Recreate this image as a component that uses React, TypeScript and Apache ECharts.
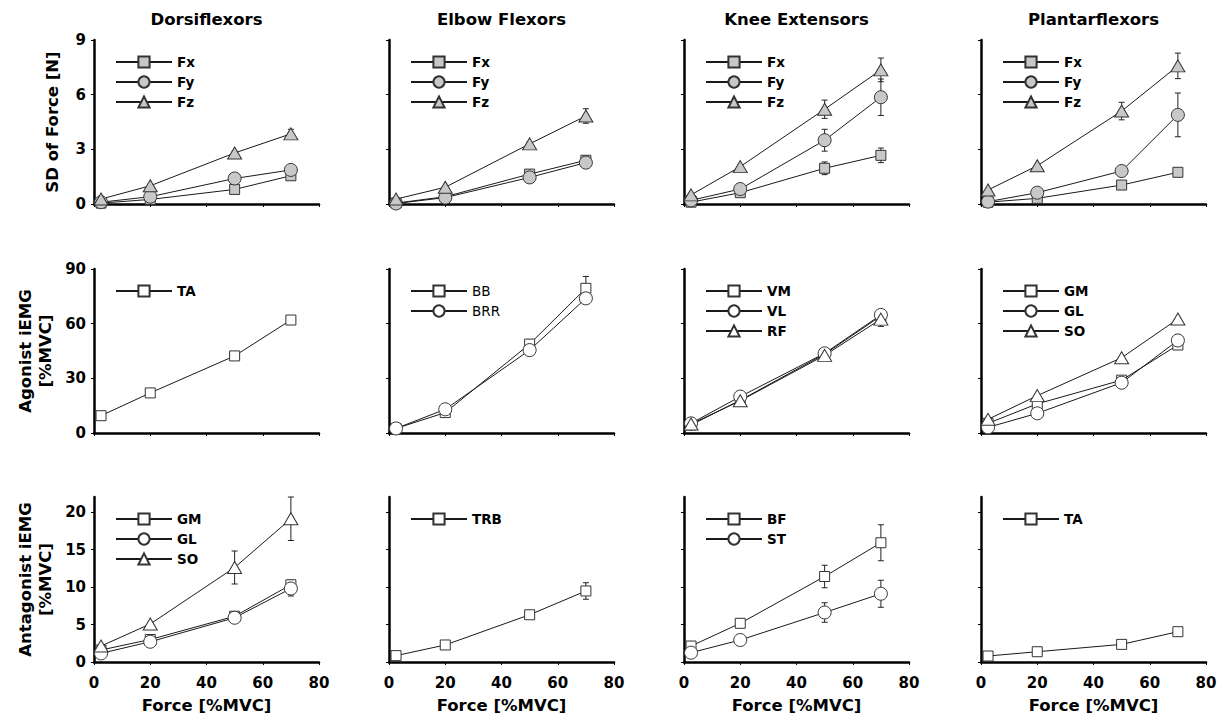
import React, { useEffect, useRef } from "react";
import * as echarts from "echarts";

// ---------- data ----------
const forceLevels = [2.5, 20, 50, 70];
const panelTitles = ["Dorsiflexors", "Elbow Flexors", "Knee Extensors", "Plantarflexors"];
const xTicks = [0, 20, 40, 60, 80];
const sdTicks = [0, 3, 6, 9];
const agonistTicks = [0, 30, 60, 90];
const antagonistTicks = [0, 5, 10, 15, 20];
const rowNames = ["SD of Force [N]", "Agonist iEMG\n[%MVC]", "Antagonist iEMG\n[%MVC]"];
const xName = "Force [%MVC]";

// Row 1: SD of force [N]
const dorsiFx = [0.05, 0.25, 0.8, 1.55];
const dorsiFxErr = [0, 0, 0.05, 0.1];
const dorsiFy = [0.1, 0.4, 1.4, 1.87];
const dorsiFyErr = [0, 0, 0.05, 0.1];
const dorsiFz = [0.27, 1.0, 2.8, 3.85];
const dorsiFzErr = [0, 0, 0.1, 0.25];

const elbowFx = [0.05, 0.4, 1.64, 2.4];
const elbowFxErr = [0, 0, 0.1, 0.12];
const elbowFy = [0.03, 0.35, 1.46, 2.27];
const elbowFyErr = [0, 0, 0.05, 0.1];
const elbowFz = [0.27, 0.92, 3.3, 4.83];
const elbowFzErr = [0, 0, 0.1, 0.4];

const kneeFx = [0.1, 0.62, 1.96, 2.67];
const kneeFxErr = [0, 0.05, 0.35, 0.4];
const kneeFy = [0.2, 0.82, 3.5, 5.86];
const kneeFyErr = [0, 0.1, 0.6, 1.0];
const kneeFz = [0.5, 2.05, 5.2, 7.36];
const kneeFzErr = [0, 0, 0.5, 0.65];

const plantarFx = [0.1, 0.31, 1.04, 1.74];
const plantarFxErr = [0, 0, 0.05, 0.1];
const plantarFy = [0.13, 0.62, 1.81, 4.89];
const plantarFyErr = [0, 0, 0.1, 1.2];
const plantarFz = [0.77, 2.1, 5.1, 7.58];
const plantarFzErr = [0, 0, 0.48, 0.7];

// Row 2: agonist iEMG [%MVC]
const agoDorsiTA = [9.5, 22, 42.3, 62];
const agoDorsiTAErr = [0, 0.5, 1, 1];
const agoElbowBB = [2.5, 11.2, 48.8, 79.4];
const agoElbowBBErr = [0, 0, 2.5, 6.5];
const agoElbowBRR = [2.5, 13, 45.5, 73.9];
const agoElbowBRRErr = [0, 0, 1.5, 2];
const agoKneeVM = [4.4, 18, 43.3, 64.2];
const agoKneeVMErr = [0, 0, 1.5, 2.5];
const agoKneeVL = [5.3, 20, 43.7, 64.8];
const agoKneeVLErr = [0, 1, 1.5, 2.5];
const agoKneeRF = [4.9, 17.7, 42.6, 62.5];
const agoKneeRFErr = [0, 0, 1.5, 4];
const agoPlantarGM = [5.3, 16, 29, 48.3];
const agoPlantarGMErr = [0, 0, 1.5, 2.5];
const agoPlantarGL = [3.1, 10.8, 27.6, 50.8];
const agoPlantarGLErr = [0, 0, 2, 3];
const agoPlantarSO = [7.5, 20.5, 41.3, 62.6];
const agoPlantarSOErr = [0, 0, 0, 0];

// Row 3: antagonist iEMG [%MVC]
const antDorsiGM = [1.6, 3.0, 6.1, 10.3];
const antDorsiGMErr = [0, 0.3, 0.3, 0.6];
const antDorsiGL = [1.15, 2.7, 5.9, 9.8];
const antDorsiGLErr = [0, 0.3, 0.3, 1.0];
const antDorsiSO = [2.13, 5.07, 12.6, 19.1];
const antDorsiSOErr = [0, 0, 2.2, 2.9];
const antElbowTRB = [0.85, 2.27, 6.3, 9.47];
const antElbowTRBErr = [0, 0.2, 0.4, 1.1];
const antKneeBF = [2.13, 5.16, 11.4, 15.9];
const antKneeBFErr = [0, 0.3, 1.5, 2.4];
const antKneeST = [1.24, 2.93, 6.6, 9.1];
const antKneeSTErr = [0, 0.2, 1.3, 1.8];
const antPlantarTA = [0.8, 1.37, 2.35, 4.04];
const antPlantarTAErr = [0, 0, 0.15, 0.2];

// ---------- layout / style ----------
const FONT = '"DejaVu Sans", "Liberation Sans", Arial, sans-serif';
const gridLefts = [94, 389, 684, 981];
const gridWidth = 225;
const gridTops = [40, 269, 497];
const gridHeights = [164, 164, 165];
const rowTicks = [sdTicks, agonistTicks, antagonistTicks];
const rowMax = [9, 90, 22];
const rowInterval = [3, 30, 5];
const rowFill = ["#c8c8c8", "#ffffff", "#ffffff"];
const rowNameGap = [32, 39, 39];

const symbolOf: Record<string, string> = {
  Fx: "rect", Fy: "circle", Fz: "triangle",
  TA: "rect", BB: "rect", BRR: "circle",
  VM: "rect", VL: "circle", RF: "triangle",
  GM: "rect", GL: "circle", SO: "triangle",
  TRB: "rect", BF: "rect", ST: "circle",
};
const sizeOf: Record<string, any> = { rect: 10, circle: 13, triangle: [14, 12] };

type S = { name: string; values: number[]; errors: number[] };
type Panel = { row: number; col: number; series: S[]; legendWeight?: string };

const panels: Panel[] = [
  { row: 0, col: 0, series: [
    { name: "Fx", values: dorsiFx, errors: dorsiFxErr },
    { name: "Fy", values: dorsiFy, errors: dorsiFyErr },
    { name: "Fz", values: dorsiFz, errors: dorsiFzErr }] },
  { row: 0, col: 1, series: [
    { name: "Fx", values: elbowFx, errors: elbowFxErr },
    { name: "Fy", values: elbowFy, errors: elbowFyErr },
    { name: "Fz", values: elbowFz, errors: elbowFzErr }] },
  { row: 0, col: 2, series: [
    { name: "Fx", values: kneeFx, errors: kneeFxErr },
    { name: "Fy", values: kneeFy, errors: kneeFyErr },
    { name: "Fz", values: kneeFz, errors: kneeFzErr }] },
  { row: 0, col: 3, series: [
    { name: "Fx", values: plantarFx, errors: plantarFxErr },
    { name: "Fy", values: plantarFy, errors: plantarFyErr },
    { name: "Fz", values: plantarFz, errors: plantarFzErr }] },
  { row: 1, col: 0, series: [
    { name: "TA", values: agoDorsiTA, errors: agoDorsiTAErr }] },
  { row: 1, col: 1, legendWeight: "normal", series: [
    { name: "BB", values: agoElbowBB, errors: agoElbowBBErr },
    { name: "BRR", values: agoElbowBRR, errors: agoElbowBRRErr }] },
  { row: 1, col: 2, series: [
    { name: "VM", values: agoKneeVM, errors: agoKneeVMErr },
    { name: "VL", values: agoKneeVL, errors: agoKneeVLErr },
    { name: "RF", values: agoKneeRF, errors: agoKneeRFErr }] },
  { row: 1, col: 3, series: [
    { name: "GM", values: agoPlantarGM, errors: agoPlantarGMErr },
    { name: "GL", values: agoPlantarGL, errors: agoPlantarGLErr },
    { name: "SO", values: agoPlantarSO, errors: agoPlantarSOErr }] },
  { row: 2, col: 0, series: [
    { name: "GM", values: antDorsiGM, errors: antDorsiGMErr },
    { name: "GL", values: antDorsiGL, errors: antDorsiGLErr },
    { name: "SO", values: antDorsiSO, errors: antDorsiSOErr }] },
  { row: 2, col: 1, series: [
    { name: "TRB", values: antElbowTRB, errors: antElbowTRBErr }] },
  { row: 2, col: 2, series: [
    { name: "BF", values: antKneeBF, errors: antKneeBFErr },
    { name: "ST", values: antKneeST, errors: antKneeSTErr }] },
  { row: 2, col: 3, series: [
    { name: "TA", values: antPlantarTA, errors: antPlantarTAErr }] },
];

function buildOption() {
  const grid: any[] = [];
  const xAxis: any[] = [];
  const yAxis: any[] = [];
  const series: any[] = [];
  const legend: any[] = [];

  panels.forEach((p, i) => {
    const left = gridLefts[p.col];
    const top = gridTops[p.row];
    grid.push({ left, top, width: gridWidth, height: gridHeights[p.row], containLabel: false });
    const isBottom = p.row === 2;
    const isLeft = p.col === 0;
    xAxis.push({
      type: "value", gridIndex: i, min: 0, max: 80, interval: 20,
      axisLine: { show: true, onZero: false, lineStyle: { color: "#000", width: 2.5 } },
      axisTick: { show: true, length: 3, customValues: xTicks, lineStyle: { color: "#000", width: 1 } },
      axisLabel: {
        show: isBottom, customValues: xTicks, margin: 13,
        fontFamily: FONT, fontSize: 15, fontWeight: "bold", color: "#000",
      },
      splitLine: { show: false },
      name: isBottom ? xName : "",
      nameLocation: "middle", nameGap: 35,
      nameTextStyle: { fontFamily: FONT, fontSize: 16.5, fontWeight: "bold", color: "#000" },
    });
    yAxis.push({
      type: "value", gridIndex: i, min: 0, max: rowMax[p.row], interval: rowInterval[p.row],
      axisLine: { show: true, onZero: false, lineStyle: { color: "#000", width: 2.5 } },
      axisTick: { show: true, length: 3, customValues: rowTicks[p.row], lineStyle: { color: "#000", width: 1 } },
      axisLabel: {
        show: isLeft, customValues: rowTicks[p.row], margin: 8,
        fontFamily: FONT, fontSize: 15, fontWeight: "bold", color: "#000",
      },
      splitLine: { show: false },
      name: isLeft ? rowNames[p.row] : "",
      nameLocation: "middle", nameGap: rowNameGap[p.row],
      nameTextStyle: { fontFamily: FONT, fontSize: 16.5, fontWeight: "bold", color: "#000", lineHeight: 20 },
    });

    p.series.forEach((s) => {
      const sym = symbolOf[s.name];
      series.push({
        type: "custom",
        name: "err-" + i + "-" + s.name,
        xAxisIndex: i, yAxisIndex: i, z: 2, silent: true,
        encode: { x: 0, y: 1 },
        data: forceLevels.map((x, k) => [x, s.values[k], s.errors[k]]),
        renderItem: (_params: any, api: any) => {
          const x = api.value(0);
          const y = api.value(1);
          const e = api.value(2);
          if (!e) return null;
          const t = api.coord([x, y + e]);
          const b = api.coord([x, y - e]);
          const st = { stroke: "#222", lineWidth: 1 };
          return {
            type: "group",
            children: [
              { type: "line", shape: { x1: t[0], y1: t[1], x2: b[0], y2: b[1] }, style: st },
              { type: "line", shape: { x1: t[0] - 3, y1: t[1], x2: t[0] + 3, y2: t[1] }, style: st },
              { type: "line", shape: { x1: b[0] - 3, y1: b[1], x2: b[0] + 3, y2: b[1] }, style: st },
            ],
          };
        },
      });
      series.push({
        type: "line",
        name: s.name,
        xAxisIndex: i, yAxisIndex: i, z: 3,
        data: forceLevels.map((x, k) => [x, s.values[k]]),
        symbol: sym,
        symbolSize: sizeOf[sym],
        showAllSymbol: true,
        lineStyle: { color: "#1a1a1a", width: 1 },
        itemStyle: { color: rowFill[p.row], borderColor: "#333", borderWidth: 1 },
        emphasis: { disabled: true },
      });
    });

    legend.push({
      orient: "vertical",
      left: left + 21,
      top: top + 15,
      padding: 0,
      itemWidth: 56,
      itemHeight: 14,
      itemGap: 6,
      data: p.series.map((s) => s.name),
      textStyle: { fontFamily: FONT, fontSize: 13.5, fontWeight: p.legendWeight || "bold", color: "#000" },
      selectedMode: false,
    });
  });

  const graphic = panelTitles.map((t, c) => ({
    type: "text",
    x: gridLefts[c] + gridWidth / 2,
    y: 19,
    style: {
      text: t, align: "center", verticalAlign: "middle",
      fontFamily: FONT, fontSize: 16.5, fontWeight: "bold", fill: "#000",
    },
  }));

  return {
    animation: false,
    backgroundColor: "#fff",
    grid, xAxis, yAxis, series, legend, graphic,
  };
}

export default function App() {
  const ref = useRef<HTMLDivElement>(null);
  useEffect(() => {
    document.body.style.margin = "0";
    if (!ref.current) return;
    const chart = echarts.init(ref.current, undefined, { renderer: "svg" });
    chart.setOption(buildOption() as any);
    return () => chart.dispose();
  }, []);
  return <div ref={ref} style={{ width: 1228, height: 720 }} />;
}
